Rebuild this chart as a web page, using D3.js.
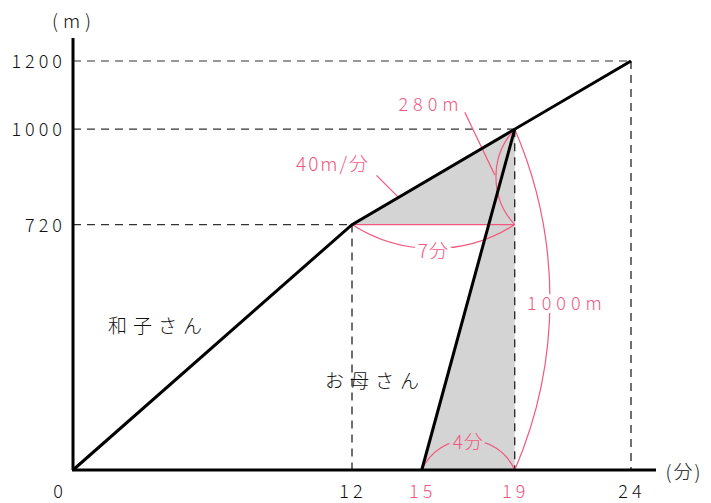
<!DOCTYPE html>
<head>
<meta charset="utf-8">
<script src="https://d3js.org/d3.v7.min.js"></script>
<style>
  body { margin: 0; background: #fff; }
  svg text { font-family: "Noto Sans CJK JP", "Noto Sans", sans-serif; font-weight: 300; }
</style>
</head>
<body>
<div id="chart"></div>
<script>
// data ------------------------------------------------------------
var kazukoTime = [0, 12, 24];
var kazukoDist = [0, 720, 1200];
var motherTime = [15, 19];
var motherDist = [0, 1000];
var yTicks = [1200, 1000, 720];
var xTicks = [0, 12, 15, 19, 24];
var pinkTicks = [15, 19];
var guidePoints = [[12, 720], [19, 1000], [24, 1200]];

var width = 711, height = 503;
var pink = "#f2587f";
var grayFill = "#d4d4d4";

var svg = d3.select("#chart").append("svg")
  .attr("width", width).attr("height", height);

var x = d3.scaleLinear().domain([0, 24]).range([73, 631]);
var y = d3.scaleLinear().domain([0, 1200]).range([470, 61]);

// gray areas -------------------------------------------------------
var upperTri = [[12, 720], [19, 1000], [19, 720]];
var lowerTri = [[15, 0], [19, 1000], [19, 0]];
[upperTri, lowerTri].forEach(function(t) {
  svg.append("path")
    .attr("d", d3.line().x(d => x(d[0])).y(d => y(d[1]))(t) + "Z")
    .attr("fill", grayFill);
});

// dashed guides ------------------------------------------------------
guidePoints.forEach(function(p) {
  svg.append("line")
    .attr("x1", x(0)).attr("x2", x(p[0]))
    .attr("y1", y(p[1])).attr("y2", y(p[1]))
    .attr("stroke", "#333").attr("stroke-width", 1.2)
    .attr("stroke-dasharray", "8,6");
  svg.append("line")
    .attr("x1", x(p[0])).attr("x2", x(p[0]))
    .attr("y1", y(p[1])).attr("y2", y(0))
    .attr("stroke", "#111").attr("stroke-width", 1.2)
    .attr("stroke-dasharray", "8,6");
});

// pink annotations ----------------------------------------------------
var ann = svg.append("g").attr("fill", "none").attr("stroke", pink).attr("stroke-width", 1.2);

function arcPath(p1, p2, r, sweep) {
  return "M" + x(p1[0]) + "," + y(p1[1]) + " A" + r + "," + r + " 0 0 " + sweep + " " + x(p2[0]) + "," + y(p2[1]);
}
// horizontal 720 line to 19 min
ann.append("line")
  .attr("x1", x(12)).attr("x2", x(19)).attr("y1", y(720)).attr("y2", y(720));
// 280m arc
ann.append("path").attr("d", arcPath([19, 1000], [19, 720], 70, 0));
// 7分 arc
ann.append("path").attr("d", arcPath([12, 720], [19, 720], 150, 0));
// 4分 arc
ann.append("path").attr("d", arcPath([15, 0], [19, 0], 51, 1));
// 1000m arc
ann.append("path").attr("d", arcPath([19, 1000], [19, 0], 430, 1));
// leaders
ann.append("line")
  .attr("x1", x(14) - 22).attr("y1", y(800) - 22)
  .attr("x2", x(14)).attr("y2", y(800));
ann.append("line")
  .attr("x1", x(19) - 50).attr("y1", y(1000) - 17)
  .attr("x2", x(19) - 20).attr("y2", y(860) - 2);

// lines ------------------------------------------------------------
var line = d3.line().x(d => x(d[0])).y(d => y(d[1]));
svg.append("path")
  .attr("d", line(kazukoTime.map((t, i) => [t, kazukoDist[i]])))
  .attr("fill", "none").attr("stroke", "#000").attr("stroke-width", 3);
svg.append("path")
  .attr("d", line(motherTime.map((t, i) => [t, motherDist[i]])))
  .attr("fill", "none").attr("stroke", "#000").attr("stroke-width", 3);

// axes ------------------------------------------------------------
svg.append("line")
  .attr("x1", x(0)).attr("x2", x(0)).attr("y1", 38).attr("y2", y(0))
  .attr("stroke", "#000").attr("stroke-width", 3);
svg.append("line")
  .attr("x1", x(0) - 1).attr("x2", 656).attr("y1", y(0)).attr("y2", y(0))
  .attr("stroke", "#000").attr("stroke-width", 3);

svg.selectAll("text.ytick").data(yTicks).enter().append("text")
  .attr("class", "ytick")
  .attr("x", x(0) - 7).attr("y", d => y(d) + 7)
  .attr("text-anchor", "end")
  .attr("font-size", 18).attr("letter-spacing", 4)
  .attr("fill", "#111")
  .text(d => d);

svg.selectAll("text.xtick").data(xTicks).enter().append("text")
  .attr("class", "xtick")
  .attr("x", d => d === 0 ? x(0) - 13 : x(d) + 1)
  .attr("y", 498)
  .attr("text-anchor", "middle")
  .attr("font-size", 18).attr("letter-spacing", 4)
  .attr("fill", d => pinkTicks.indexOf(d) >= 0 ? pink : "#111")
  .text(d => d);

svg.append("text").attr("x", x(0) + 1).attr("y", 28).attr("text-anchor", "middle")
  .attr("font-size", 19).attr("letter-spacing", 5).attr("fill", "#111").text("(m)");
svg.append("text").attr("x", 684).attr("y", 479).attr("text-anchor", "middle")
  .attr("font-size", 19).attr("letter-spacing", 2).attr("fill", "#111").text("(分)");

// series labels
svg.append("text").attr("x", 108).attr("y", 333)
  .attr("font-size", 19).attr("letter-spacing", 6).attr("fill", "#111").text("和子さん");
svg.append("text").attr("x", 325).attr("y", 388)
  .attr("font-size", 19).attr("letter-spacing", 6).attr("fill", "#111").text("お母さん");

// pink labels
function pinkLabel(tx, ty, str, halo, ls, fs) {
  svg.append("text").attr("x", tx).attr("y", ty)
    .attr("text-anchor", "middle")
    .attr("font-size", fs).attr("letter-spacing", ls)
    .attr("fill", pink)
    .attr("stroke", halo || "none").attr("stroke-width", 7)
    .attr("paint-order", "stroke")
    .text(str);
}
pinkLabel(431, 111, "280m", null, 5, 18);
pinkLabel(333, 171, "40m/分", null, 2, 19);
pinkLabel(x(15.5), y(720) + 33, "7分", "#fff", 1, 19);
pinkLabel((x(15) + x(19)) / 2, y(0) - 21, "4分", grayFill, 1, 19);
pinkLabel(567, 310, "1000m", "#fff", 5, 18);
</script>
</body>
